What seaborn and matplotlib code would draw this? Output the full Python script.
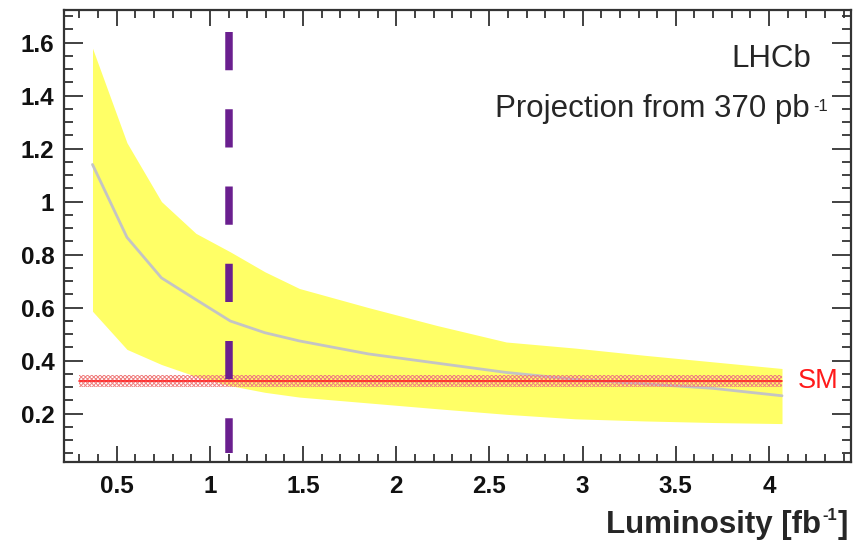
import seaborn as sns
from matplotlib import pyplot as plt
from matplotlib.ticker import MultipleLocator, FormatStrFormatter

# projected luminosities [fb^-1]
lumi = [0.37, 0.555, 0.74, 0.925, 1.11, 1.295, 1.48, 1.85, 2.22, 2.59, 2.96, 3.33, 3.70, 4.07]
central = [1.14, 0.865, 0.712, 0.63, 0.549, 0.505, 0.474, 0.425, 0.39, 0.355, 0.329, 0.312, 0.295, 0.267]
upper = [1.579, 1.222, 1.0, 0.88, 0.81, 0.735, 0.672, 0.60, 0.532, 0.47, 0.447, 0.42, 0.395, 0.37]
lower = [0.586, 0.442, 0.385, 0.34, 0.305, 0.28, 0.262, 0.24, 0.218, 0.197, 0.18, 0.172, 0.166, 0.162]

# SM prediction band
sm_x = [0.30, 4.07]
sm_value = 0.323
sm_err = 0.022

# current luminosity marker
lumi_now = 1.1

sns.set_style('ticks')
plt.rcParams['font.family'] = ['Liberation Sans', 'DejaVu Sans']
plt.rcParams['hatch.linewidth'] = 0.7

fig = plt.figure(figsize=(8.6, 5.42), dpi=100)
ax = fig.add_axes([0.0744, 0.1476, 0.9151, 0.8339])

# yellow band
ax.fill_between(lumi, lower, upper, color='#ffff66', lw=0, zorder=1)

# central projection
sns.lineplot(x=lumi, y=central, ax=ax, color='#c4c4c4', lw=2, zorder=2)

# SM band (hatched)
ax.fill_between(sm_x, [sm_value - sm_err] * 2, [sm_value + sm_err] * 2,
                facecolor='none', edgecolor='#f08080', hatch='xxxxxxxx', lw=0, zorder=3)
ax.plot(sm_x, [sm_value] * 2, color='#ff2020', lw=1.2, zorder=3)
ax.text(4.155, sm_value, 'SM', color='#ff1a1a', fontsize=19.5, va='center', ha='left')

# dashed vertical line
ax.plot([lumi_now, lumi_now], [1.64, 0.05], color='#6a1f8f', lw=5.4,
        dashes=(5.1, 5.2), solid_capstyle='butt', dash_capstyle='butt', zorder=4)

ax.set_xlim(0.217, 4.44)
ax.set_ylim(0.017, 1.723)

ax.xaxis.set_major_locator(MultipleLocator(0.5))
ax.xaxis.set_minor_locator(MultipleLocator(0.1))
ax.yaxis.set_major_locator(MultipleLocator(0.2))
ax.yaxis.set_minor_locator(MultipleLocator(0.05))
ax.xaxis.set_major_formatter(FormatStrFormatter('%g'))
ax.yaxis.set_major_formatter(FormatStrFormatter('%g'))

ax.tick_params(which='both', direction='in', top=True, right=True, width=1.3, color='#333333')
ax.tick_params(axis='x', which='major', length=11.5, pad=9)
ax.tick_params(axis='x', which='minor', length=5.5)
ax.tick_params(axis='y', which='major', length=13.5, pad=7)
ax.tick_params(axis='y', which='minor', length=6.5)
for lab in ax.get_xticklabels() + ax.get_yticklabels():
    lab.set_fontsize(17.5)
    lab.set_fontweight('bold')
    lab.set_color('#111111')

for sp in ax.spines.values():
    sp.set_linewidth(1.6)
    sp.set_color('#333333')

# x label: main text + small raised superscript
fig.text(0.9545, 0.016, 'Luminosity [fb', fontsize=22.5, fontweight='bold', ha='right', va='baseline')
fig.text(0.9565, 0.0406, '-1', fontsize=12, fontweight='bold', ha='left', va='baseline')
fig.text(0.986, 0.016, ']', fontsize=22.5, fontweight='bold', ha='right', va='baseline')

ax.text(0.950, 0.8746, 'LHCb', transform=ax.transAxes, fontsize=22.5, ha='right', va='baseline')
ax.text(0.9479, 0.764, 'Projection from 370 pb', transform=ax.transAxes,
        fontsize=22.5, ha='right', va='baseline')
ax.text(0.9515, 0.776, '-1', transform=ax.transAxes, fontsize=12, ha='left', va='baseline')

fig.savefig('out.png', dpi=100)
